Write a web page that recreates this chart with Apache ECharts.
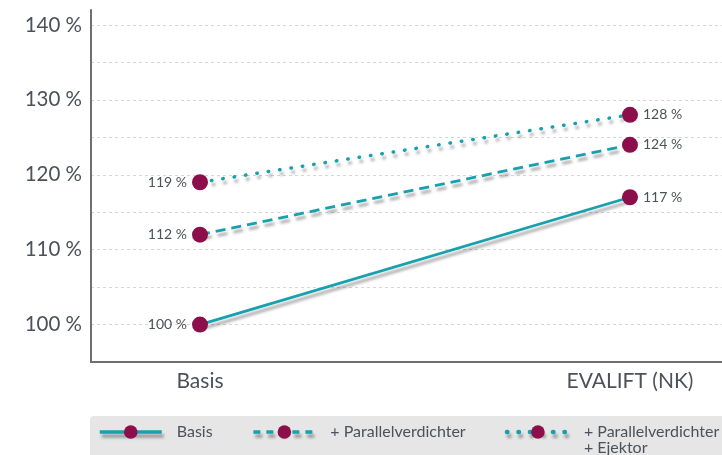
<!DOCTYPE html>
<html>
<head>
<meta charset="utf-8">
<script src="https://cdn.jsdelivr.net/npm/echarts@6/dist/echarts.min.js"></script>
<style>
  html, body { margin: 0; padding: 0; background: #fff; }
  #chart-container { width: 722px; height: 455px; }
</style>
</head>
<body>
<div id="chart-container"></div>
<script>
var dom = document.getElementById("chart-container");
var myChart = echarts.init(dom, null, { renderer: "canvas" });

var categories = ["Basis", "EVALIFT (NK)"];
var seriesNames = ["Basis", "+ Parallelverdichter", "+ Parallelverdichter\n+ Ejektor"];
var basisValues = [100, 117];
var parallelValues = [112, 124];
var ejektorValues = [119, 128];
var yTicks = [100, 110, 120, 130, 140];

var teal = "#17a0ad";
var dotColor = "#8c0f4b";
var textColor = "#4b5259";
var shadow = {
  shadowColor: "rgba(0,0,0,0.35)",
  shadowBlur: 3,
  shadowOffsetX: 2,
  shadowOffsetY: 4
};

function buildData(values) {
  return values.map(function (v, i) {
    return {
      value: [i, v],
      label: { position: i === 0 ? "left" : "right" }
    };
  });
}

function makeSeries(name, values, lineType) {
  return {
    name: name,
    type: "line",
    data: buildData(values),
    symbol: "circle",
    symbolSize: 16,
    itemStyle: { color: dotColor },
    lineStyle: Object.assign({
      color: teal,
      width: lineType === "dotted" ? 3.5 : 2.8,
      type: lineType === "dotted" ? [0.5, 11] : (lineType === "dashed" ? [10, 6] : "solid"),
      cap: lineType === "dotted" ? "round" : "butt"
    }, shadow),
    label: {
      show: true,
      distance: 5,
      fontFamily: "Lato",
      fontSize: 14,
      color: textColor,
      formatter: function (p) { return p.value[1] + " %"; }
    },
    emphasis: { disabled: true },
    z: 3
  };
}

var option = {
  animation: false,
  grid: { left: 91, right: 0, top: 10, bottom: 93 },
  graphic: [{
    type: "rect",
    left: 90,
    top: 416,
    shape: { width: 660, height: 50, r: 4 },
    style: { fill: "#e6e6e6" },
    z: -1
  }],
  legend: {
    left: 93,
    top: 403,
    width: 900,
    itemWidth: 62,
    itemHeight: 17,
    itemGap: 39,
    lineStyle: Object.assign({ width: 3.5 }, shadow),
    textStyle: {
      fontFamily: "Lato",
      fontSize: 16,
      lineHeight: 16,
      color: textColor,
      padding: [0, 0, 0, 10]
    },
    formatter: function (name) {
      return name.indexOf("\n") >= 0 ? "\n" + name : name;
    },
    data: [
      { name: seriesNames[0] },
      { name: seriesNames[1], lineStyle: { type: [7, 6], cap: "butt" } },
      { name: seriesNames[2], lineStyle: { type: [0.5, 11], cap: "round", width: 4.5 } }
    ]
  },
  xAxis: {
    type: "value",
    min: -0.2535,
    max: 1.214,
    splitLine: { show: false },
    axisTick: { show: false },
    axisLine: { show: true, onZero: false, lineStyle: { color: "#6f6f6f", width: 2 } },
    axisLabel: {
      customValues: [0, 1],
      formatter: function (v) { return categories[Math.round(v)]; },
      fontFamily: "Lato",
      fontSize: 21,
      color: textColor,
      margin: 9
    }
  },
  yAxis: {
    type: "value",
    min: 95,
    max: 142,
    interval: 5,
    axisLine: { show: true, onZero: false, lineStyle: { color: "#6f6f6f", width: 2 } },
    axisTick: { show: false },
    splitLine: {
      show: true,
      showMinLine: false,
      showMaxLine: false,
      lineStyle: { color: "#d6d6d6", type: [3, 3], width: 1 }
    },
    axisLabel: {
      fontFamily: "Lato",
      fontSize: 20.5,
      color: textColor,
      margin: 9,
      showMaxLabel: false,
      formatter: function (v) { return yTicks.indexOf(v) >= 0 ? v + " %" : ""; }
    }
  },
  series: [
    makeSeries(seriesNames[0], basisValues, "solid"),
    makeSeries(seriesNames[1], parallelValues, "dashed"),
    makeSeries(seriesNames[2], ejektorValues, "dotted")
  ]
};

myChart.setOption(option);
window.addEventListener("resize", myChart.resize);
</script>
</body>
</html>
